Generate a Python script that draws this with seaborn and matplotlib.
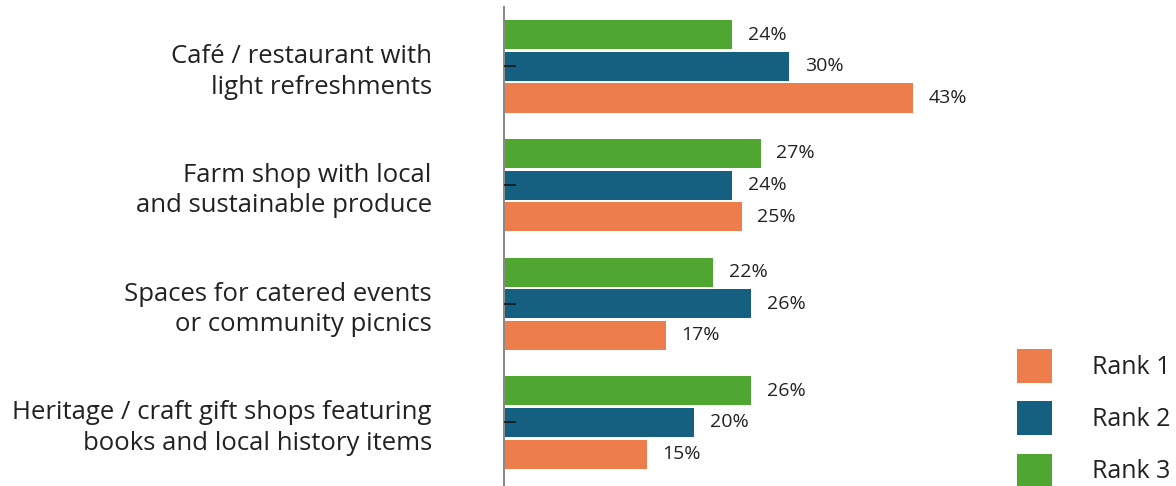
import matplotlib
matplotlib.use("Agg")
import matplotlib.pyplot as plt
from matplotlib.patches import Patch
import seaborn as sns
import pandas as pd

categories = [
    "Café / restaurant with\nlight refreshments",
    "Farm shop with local\nand sustainable produce",
    "Spaces for catered events\nor community picnics",
    "Heritage / craft gift shops featuring\nbooks and local history items",
]
rank1 = [43, 25, 17, 15]
rank2 = [30, 24, 26, 20]
rank3 = [24, 27, 22, 26]
rank_names = ["Rank 1", "Rank 2", "Rank 3"]
colors = {"Rank 1": "#ED7D4B", "Rank 2": "#155F80", "Rank 3": "#4FA630"}

df = pd.DataFrame({
    "category": categories * 3,
    "rank": ["Rank 1"] * 4 + ["Rank 2"] * 4 + ["Rank 3"] * 4,
    "value": rank1 + rank2 + rank3,
})

sns.set_theme(style="white")
plt.rcParams["font.family"] = ["Open Sans", "DejaVu Sans"]
text_color = "#222222"

fig = plt.figure(figsize=(11.76, 4.86), dpi=100)
ax = fig.add_axes([504 / 1176, 0.0, (45 * 9.5) / 1176, 1 - 7 / 486])

# bars stacked top-to-bottom as Rank 3, Rank 2, Rank 1
hue_order = ["Rank 3", "Rank 2", "Rank 1"]
sns.barplot(data=df, y="category", x="value", hue="rank", hue_order=hue_order,
            order=categories, palette=colors, orient="h", width=0.8, gap=0.08,
            saturation=1, linewidth=0, legend=False, ax=ax)

for cont in ax.containers:
    ax.bar_label(cont, fmt="%.0f%%", padding=11.5, fontsize=14, color=text_color)

ax.set_xlim(0, 45)
ax.set_ylim(3.535, -0.50)
ax.set_xlabel("")
ax.set_ylabel("")
ax.set_xticks([])
ax.set_axisbelow(False)
for side in ["top", "right", "bottom"]:
    ax.spines[side].set_visible(False)
ax.spines["left"].set_color("#8a8a8a")
ax.spines["left"].set_linewidth(1.5)
ax.tick_params(axis="y", left=True, direction="in", length=8.6, width=1.1,
               color="#111111", pad=52, labelsize=18.5, labelcolor=text_color)
for lbl in ax.get_yticklabels():
    lbl.set_linespacing(1.28)

handles = [Patch(facecolor=colors[r], edgecolor="none") for r in rank_names]
fig.legend(handles, rank_names, loc="upper left",
           bbox_to_anchor=(1017 / 1176, 1 - 349 / 486), frameon=False,
           fontsize=18, handlelength=1.4, handleheight=1.7, handletextpad=1.6,
           labelspacing=0.74, borderpad=0, borderaxespad=0,
           labelcolor=text_color)

fig.savefig("out.png", dpi=100)
